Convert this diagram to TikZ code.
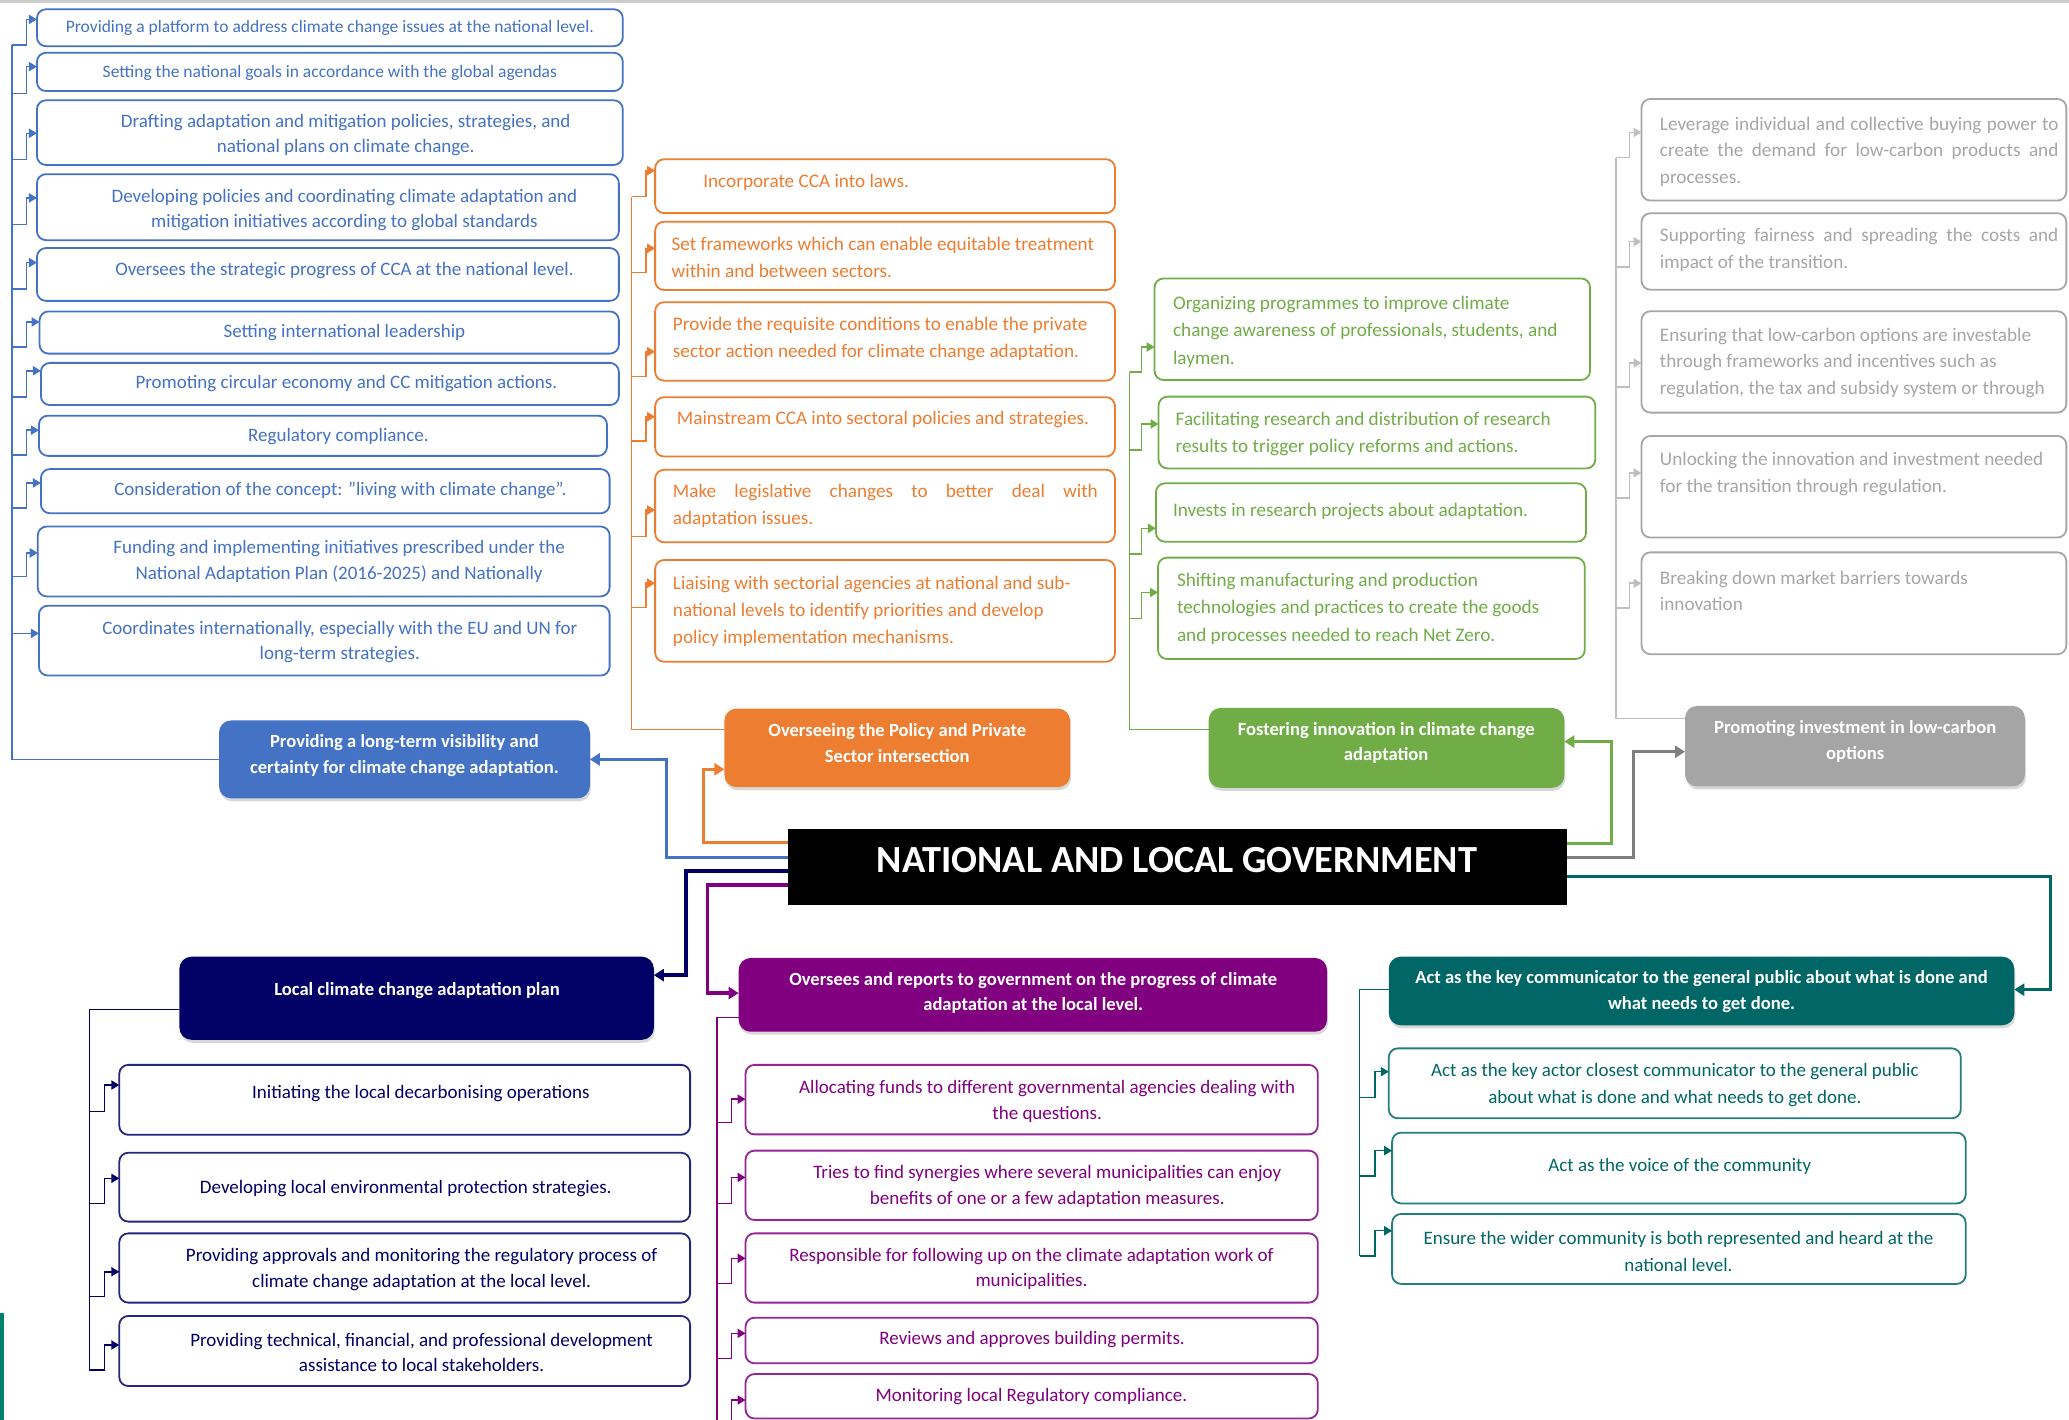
\documentclass[tikz,border=0pt]{standalone}
\usepackage{fontspec}
\setmainfont{Carlito}
\usetikzlibrary{arrows.meta,shadows}

\definecolor{colBlue}{HTML}{4472C4}
\definecolor{colOrange}{HTML}{ED7D31}
\definecolor{colGreen}{HTML}{70AD47}
\definecolor{colGray}{HTML}{A5A5A5}
\definecolor{colGrayTxt}{HTML}{A6A6A6}
\definecolor{colGrayLine}{HTML}{BFBFBF}
\definecolor{colGrayDark}{HTML}{7F7F7F}
\definecolor{colNavy}{HTML}{000066}
\definecolor{colPurple}{HTML}{800080}
\definecolor{colTeal}{HTML}{006666}
\definecolor{colTealBar}{HTML}{00806F}
\definecolor{colTopLine}{HTML}{CCCCCC}

\newcommand{\mkbox}[6]{\node[#2, minimum width={(#5-#3)*0.66pt}, minimum height={(#6-#4)*0.66pt}] (#1) at ({(#3+#5)/2},{(#4+#6)/2}) {};}
\newcommand{\elb}[6]{\coordinate (#6s) at (#2,#4); \coordinate (#6e) at (#3,#5); \draw[#1] (#6s) -| (#6e) -- (#6.west |- #6e);}

\tikzset{
  ibox/.style={rectangle, rounded corners=4.5pt, draw, line width=0.9pt, inner sep=0pt, outer sep=0pt, fill=white},
  hbox/.style={rectangle, rounded corners=6pt, inner sep=0pt, outer sep=0pt, drop shadow={shadow xshift=0.5pt, shadow yshift=-1.5pt, opacity=0.3}},
  itxt/.style={inner sep=0pt, outer sep=0pt},
  htxt/.style={inner sep=0pt, outer sep=0pt, text=white, align=center, font={\fontsize{9.3}{12.8}\selectfont\bfseries}},
  ilink/.style={line width=0.75pt, -{Triangle[length=4pt,width=4.6pt]}},
  itrunk/.style={line width=0.75pt},
  clink/.style={line width=1.6pt, -{Triangle[length=5pt,width=6pt]}},
  bbox/.style={ibox, draw=colBlue},
  obox/.style={ibox, draw=colOrange},
  gbox/.style={ibox, draw=colGreen},
  grbox/.style={ibox, draw=colGrayTxt},
  nbox/.style={ibox, draw=colNavy!85!white},
  pbox/.style={ibox, draw=colPurple!85!white},
  tbox/.style={ibox, draw=colTeal!85!white},
  btx/.style={itxt, text=colBlue, align=center, font={\fontsize{9.5}{12.6}\selectfont}},
  otx/.style={itxt, text=colOrange, align=left, anchor=west, font={\fontsize{9.6}{13.5}\selectfont}},
  gtx/.style={itxt, text=colGreen, align=left, anchor=west, font={\fontsize{9.6}{13.7}\selectfont}},
  grtx/.style={itxt, text=colGrayTxt, align=left, anchor=west, font={\fontsize{9.6}{13.3}\selectfont}},
  ntx/.style={itxt, text=colNavy, align=center, font={\fontsize{9.5}{12.8}\selectfont}},
  ptx/.style={itxt, text=colPurple, align=center, font={\fontsize{9.5}{12.9}\selectfont}},
  ttx/.style={itxt, text=colTeal, align=center, font={\fontsize{9.5}{13.3}\selectfont}},
  bl/.style={ilink, color=colBlue}, blt/.style={itrunk, color=colBlue},
  ol/.style={ilink, color=colOrange}, olt/.style={itrunk, color=colOrange},
  gl/.style={ilink, color=colGreen}, glt/.style={itrunk, color=colGreen},
  grl/.style={ilink, color=colGrayLine}, grlt/.style={itrunk, color=colGrayLine},
  nl/.style={ilink, color=colNavy}, nlt/.style={itrunk, color=colNavy},
  pl/.style={ilink, color=colPurple}, plt/.style={itrunk, color=colPurple},
  tl/.style={ilink, color=colTeal}, tlt/.style={itrunk, color=colTeal},
}

\begin{document}
\begin{tikzpicture}[x=0.66pt, y=-0.66pt]
\useasboundingbox (0,0) rectangle (1568,1076);
\fill[white] (0,0) rectangle (1568,1076);
\draw[colTopLine, line width=1.2pt] (0,1) -- (1568,1);
\fill[colTealBar] (0,995) rectangle (3,1076);

% ---------------- blue column ----------------
\mkbox{b1}{bbox}{28}{7}{472}{35}
\mkbox{b2}{bbox}{28}{40}{472}{69}
\mkbox{b3}{bbox}{28}{76}{472}{125}
\mkbox{b4}{bbox}{28}{132}{469}{182}
\mkbox{b5}{bbox}{28}{188}{469}{228}
\mkbox{b6}{bbox}{30}{236}{469}{268}
\mkbox{b7}{bbox}{31}{275}{469}{307}
\mkbox{b8}{bbox}{29.5}{315}{460}{345.5}
\mkbox{b9}{bbox}{31}{355.5}{462}{389}
\mkbox{b10}{bbox}{28.6}{399}{462}{452}
\mkbox{b11}{bbox}{29.5}{459}{462}{512}
\mkbox{bh}{hbox, fill=colBlue}{166}{546}{447}{605}

\node[btx] (b1t) at (250,21) {\fontsize{8.75}{11}\selectfont Providing a platform to address climate change issues at the national level.};
\node[btx] (b2t) at (250,55) {\fontsize{8.75}{11}\selectfont Setting the national goals in accordance with the global agendas};
\node[btx] (b3t) at (262,102.5) {Drafting adaptation and mitigation policies, strategies, and\\national plans on climate change.};
\node[btx] (b4t) at (261,159) {Developing policies and coordinating climate adaptation and\\mitigation initiatives according to global standards};
\node[btx] (b5t) at (261,205) {Oversees the strategic progress of CCA at the national level.};
\node[btx] (b6t) at (261,252) {Setting international leadership};
\node[btx] (b7t) at (262.5,291) {Promoting circular economy and CC mitigation actions.};
\node[btx] (b8t) at (256.5,331) {Regulatory compliance.};
\node[btx] (b9t) at (258,372) {Consideration of the concept: {\char34}living with climate change{\char34}.};
\node[btx] (b10t) at (257,425.5) {Funding and implementing initiatives prescribed under the\\National Adaptation Plan (2016-2025) and Nationally};
\node[btx] (b11t) at (257.5,486.5) {Coordinates internationally, especially with the EU and UN for\\long-term strategies.};
\node[htxt] (bht) at (306.5,572.5) {Providing a long-term visibility and\\certainty for climate change adaptation.};

\elb{bl}{9}{20}{34}{14.7}{b1}
\elb{bl}{9}{20}{70.7}{50.5}{b2}
\elb{bl}{9}{20}{121}{101}{b3}
\elb{bl}{9}{20}{170}{150}{b4}
\elb{bl}{9}{20}{219}{199}{b5}
\elb{bl}{9}{20}{263}{244}{b6}
\elb{bl}{9}{20}{301}{281}{b7}
\elb{bl}{9}{20}{345}{326}{b8}
\elb{bl}{9}{20}{385}{366}{b9}
\elb{bl}{9}{20}{437}{419}{b10}
\coordinate (b11s) at (9,480);
\draw[bl] (b11s) -- (b11.west |- b11s);
\draw[blt] (b1s) |- (bh.west);

% ---------------- orange column ----------------
\mkbox{o1}{obox}{496.5}{120.7}{845}{161.5}
\mkbox{o2}{obox}{496.5}{168}{845}{219.8}
\mkbox{o3}{obox}{496.5}{229}{845}{288.5}
\mkbox{o4}{obox}{496.5}{301}{845}{346}
\mkbox{o5}{obox}{496.5}{356}{845}{411}
\mkbox{o6}{obox}{496.5}{424.4}{845}{501.5}
\mkbox{oh}{hbox, fill=colOrange}{549}{537}{811}{596.5}

\node[otx] (o1t) at (533,138) {Incorporate CCA into laws.};
\node[otx] (o2t) at (509,195) {Set frameworks which can enable equitable treatment\\within and between sectors.};
\node[otx] (o3t) at (510,257) {Provide the requisite conditions to enable the private\\sector action needed for climate change adaptation.};
\node[otx] (o4t) at (513,318) {Mainstream CCA into sectoral policies and strategies.};
\node[otx] (o5t) at (510,383.5) {\makebox[212.5pt][s]{Make legislative changes to better deal with}\\adaptation issues.};
\node[otx] (o6t) at (510,463.5) {Liaising with sectorial agencies at national and sub-\\national levels to identify priorities and develop\\policy implementation mechanisms.};
\node[htxt] (oht) at (680,563) {Overseeing the Policy and Private\\Sector intersection};

\elb{ol}{478.7}{489.6}{149}{129.3}{o1}
\elb{ol}{478.7}{489.6}{206.6}{188.2}{o2}
\elb{ol}{478.7}{489.6}{285.5}{266.5}{o3}
\elb{ol}{478.7}{489.6}{334.2}{315.8}{o4}
\elb{ol}{478.7}{489.6}{406.7}{386.5}{o5}
\elb{ol}{478.7}{489.6}{460.5}{442}{o6}
\draw[olt] (o1s) |- (oh.west |- 0,553);

% ---------------- green column ----------------
\mkbox{g1}{gbox}{875}{211}{1205}{288}
\mkbox{g2}{gbox}{878}{300.6}{1209}{355}
\mkbox{g3}{gbox}{876}{366.3}{1202}{410.5}
\mkbox{g4}{gbox}{877.6}{422.6}{1201}{499.4}
\mkbox{gh}{hbox, fill=colGreen}{916}{536.5}{1185.5}{597}

\node[gtx] (g1t) at (889,251.3) {Organizing programmes to improve climate\\change awareness of professionals, students, and\\laymen.};
\node[gtx] (g2t) at (891,328.7) {Facilitating research and distribution of research\\results to trigger policy reforms and actions.};
\node[gtx] (g3t) at (889,387.8) {Invests in research projects about adaptation.};
\node[gtx] (g4t) at (892,461.3) {Shifting manufacturing and production\\technologies and practices to create the goods\\and processes needed to reach Net Zero.};
\node[htxt] (ght) at (1050.5,563) {Fostering innovation in climate change\\adaptation};

\elb{gl}{856}{865}{282}{263}{g1}
\elb{gl}{856}{865}{341}{321.3}{g2}
\elb{gl}{856}{865}{420}{400.4}{g3}
\elb{gl}{856}{865}{468.6}{449}{g4}
\draw[glt] (g1s) |- (gh.west |- 0,553);

% ---------------- gray column ----------------
\mkbox{r1}{grbox}{1244}{75}{1566}{152}
\mkbox{r2}{grbox}{1244}{161.6}{1566}{219.6}
\mkbox{r3}{grbox}{1244}{235.9}{1566}{312.7}
\mkbox{r4}{grbox}{1244}{330.4}{1566}{407.4}
\mkbox{r5}{grbox}{1244}{418.6}{1566}{495.8}
\mkbox{rh}{hbox, fill=colGray}{1277}{535}{1534.5}{596}

\node[grtx] (r1t) at (1258,114.8) {\makebox[199.3pt][s]{Leverage individual and collective buying power to}\\\makebox[199.3pt][s]{create the demand for low-carbon products and}\\processes.};
\node[grtx] (r2t) at (1258,189.5) {\makebox[199.3pt][s]{Supporting fairness and spreading the costs and}\\impact of the transition.};
\node[grtx] (r3t) at (1258,274.9) {Ensuring that low-carbon options are investable\\through frameworks and incentives such as\\regulation, the tax and subsidy system or through};
\node[grtx] (r4t) at (1258,359.1) {Unlocking the innovation and investment needed\\for the transition through regulation.};
\node[grtx] (r5t) at (1258,447.9) {Breaking down market barriers towards\\innovation};
\node[htxt] (rht) at (1406,562) {Promoting investment in low-carbon\\options};

\elb{grl}{1224.5}{1235}{119.5}{100.4}{r1}
\elb{grl}{1224.5}{1235}{202.2}{183.2}{r2}
\elb{grl}{1224.5}{1235}{293.3}{275.1}{r3}
\elb{grl}{1224.5}{1235}{377.4}{358.4}{r4}
\elb{grl}{1224.5}{1235}{460.8}{442}{r5}
\draw[grlt] (r1s) |- (rh.west |- 0,544.5);

% ---------------- navy column ----------------
\mkbox{n1}{nbox}{90.4}{807}{523}{860}
\mkbox{n2}{nbox}{90.4}{873.6}{523}{925.8}
\mkbox{n3}{nbox}{90.4}{934.7}{523}{987.2}
\mkbox{n4}{nbox}{90.4}{997.3}{523}{1050.4}
\mkbox{nh}{hbox, fill=colNavy}{136}{725}{495.5}{788}

\node[ntx] (n1t) at (319,829) {Initiating the local decarbonising operations};
\node[ntx] (n2t) at (307.5,900.6) {Developing local environmental protection strategies.};
\node[ntx] (n3t) at (319.5,962) {Providing approvals and monitoring the regulatory process of\\climate change adaptation at the local level.};
\node[ntx] (n4t) at (319.5,1025) {Providing technical, financial, and professional development\\assistance to local stakeholders.};
\node[htxt] (nht) at (316,751) {Local climate change adaptation plan};

\elb{nl}{67.8}{79.3}{842.5}{822.3}{n1}
\elb{nl}{67.8}{79.3}{912}{893}{n2}
\elb{nl}{67.8}{79.3}{982.7}{963.8}{n3}
\elb{nl}{67.8}{79.3}{1038.3}{1019.3}{n4}
\draw[nlt] (nh.west |- 0,765) -| (n4s);

% ---------------- purple column ----------------
\mkbox{p1}{pbox}{565}{807}{998.7}{859.7}
\mkbox{p2}{pbox}{565}{872}{998.7}{924.6}
\mkbox{p3}{pbox}{565}{934.7}{998.7}{987.2}
\mkbox{p4}{pbox}{565}{998.6}{998.7}{1033.2}
\mkbox{p5}{pbox}{565}{1041.3}{998.7}{1075}
\mkbox{ph}{hbox, fill=colPurple}{559.8}{726}{1005.7}{781.9}

\node[ptx] (p1t) at (793.6,834.5) {Allocating funds to different governmental agencies dealing with\\the questions.};
\node[ptx] (p2t) at (793.7,899) {Tries to find synergies where several municipalities can enjoy\\benefits of one or a few adaptation measures.};
\node[ptx] (p3t) at (781.7,961.6) {Responsible for following up on the climate adaptation work of\\municipalities.};
\node[ptx] (p4t) at (782.2,1015.5) {Reviews and approves building permits.};
\node[ptx] (p5t) at (781.7,1058) {Monitoring local Regulatory compliance.};
\node[htxt] (pht) at (783,752.5) {Oversees and reports to government on the progress of climate\\adaptation at the local level.};

\elb{pl}{543.3}{554.4}{850.8}{833}{p1}
\elb{pl}{543.3}{554.4}{912}{892.3}{p2}
\elb{pl}{543.3}{554.4}{972.6}{953.6}{p3}
\elb{pl}{543.3}{554.4}{1029.4}{1010.5}{p4}
\elb{pl}{543.3}{554.4}{1090}{1061}{p5}
\draw[plt] (ph.west |- 0,771) -| (p5s);

% ---------------- teal column ----------------
\mkbox{t1}{tbox}{1052.5}{794.5}{1486}{847.5}
\mkbox{t2}{tbox}{1055}{858.4}{1489.7}{912}
\mkbox{t3}{tbox}{1055}{920}{1489.7}{973}
\mkbox{th}{hbox, fill=colTeal}{1052.5}{725}{1526.5}{777}

\node[ttx] (t1t) at (1269.3,822.3) {Act as the key actor closest communicator to the general public\\about what is done and what needs to get done.};
\node[ttx] (t2t) at (1273,884.2) {Act as the voice of the community};
\node[ttx] (t3t) at (1272,948.3) {Ensure the wider community is both represented and heard at the\\national level.};
\node[htxt] (tht) at (1289.5,751.5) {Act as the key communicator to the general public about what is done and\\what needs to get done.};

\elb{tl}{1030.3}{1042}{831.6}{812.2}{t1}
\elb{tl}{1030.3}{1042}{891.2}{872}{t2}
\elb{tl}{1030.3}{1042}{951.9}{932.7}{t3}
\draw[tlt] (th.west |- 0,750) -| (t3s);

% ---------------- centre ----------------
\mkbox{title}{rectangle, fill=black, inner sep=0pt, outer sep=0pt}{597}{628.3}{1187.5}{686}

\draw[clink, color=colBlue] (title.west |- 0,650) -- (505,650) |- (bh.east);
\draw[clink, color=colOrange] (title.west |- 0,638.6) -- (533,638.6) |- (oh.west |- 0,583);
\draw[clink, color=colNavy, line width=1.9pt] (title.west |- 0,660) -- (520,660) |- (nh.east |- 0,739);
\draw[clink, color=colPurple] (title.west |- 0,670.7) -- (536,670.7) |- (ph.west |- 0,752.6);
\draw[clink, color=colGreen] (title.east |- 0,639) -- (1221.5,639) |- (gh.east |- 0,562);
\draw[clink, color=colGrayDark] (title.east |- 0,650) -- (1238,650) |- (rh.west |- 0,569.7);
\draw[clink, color=colTeal] (title.east |- 0,664.4) -- (1554,664.4) |- (th.east |- 0,750);

\node[inner sep=0pt, text=white, font={\fontsize{19.2}{22}\selectfont\bfseries}] (titlet) at (892,652) {NATIONAL AND LOCAL GOVERNMENT};
\end{tikzpicture}
\end{document}
